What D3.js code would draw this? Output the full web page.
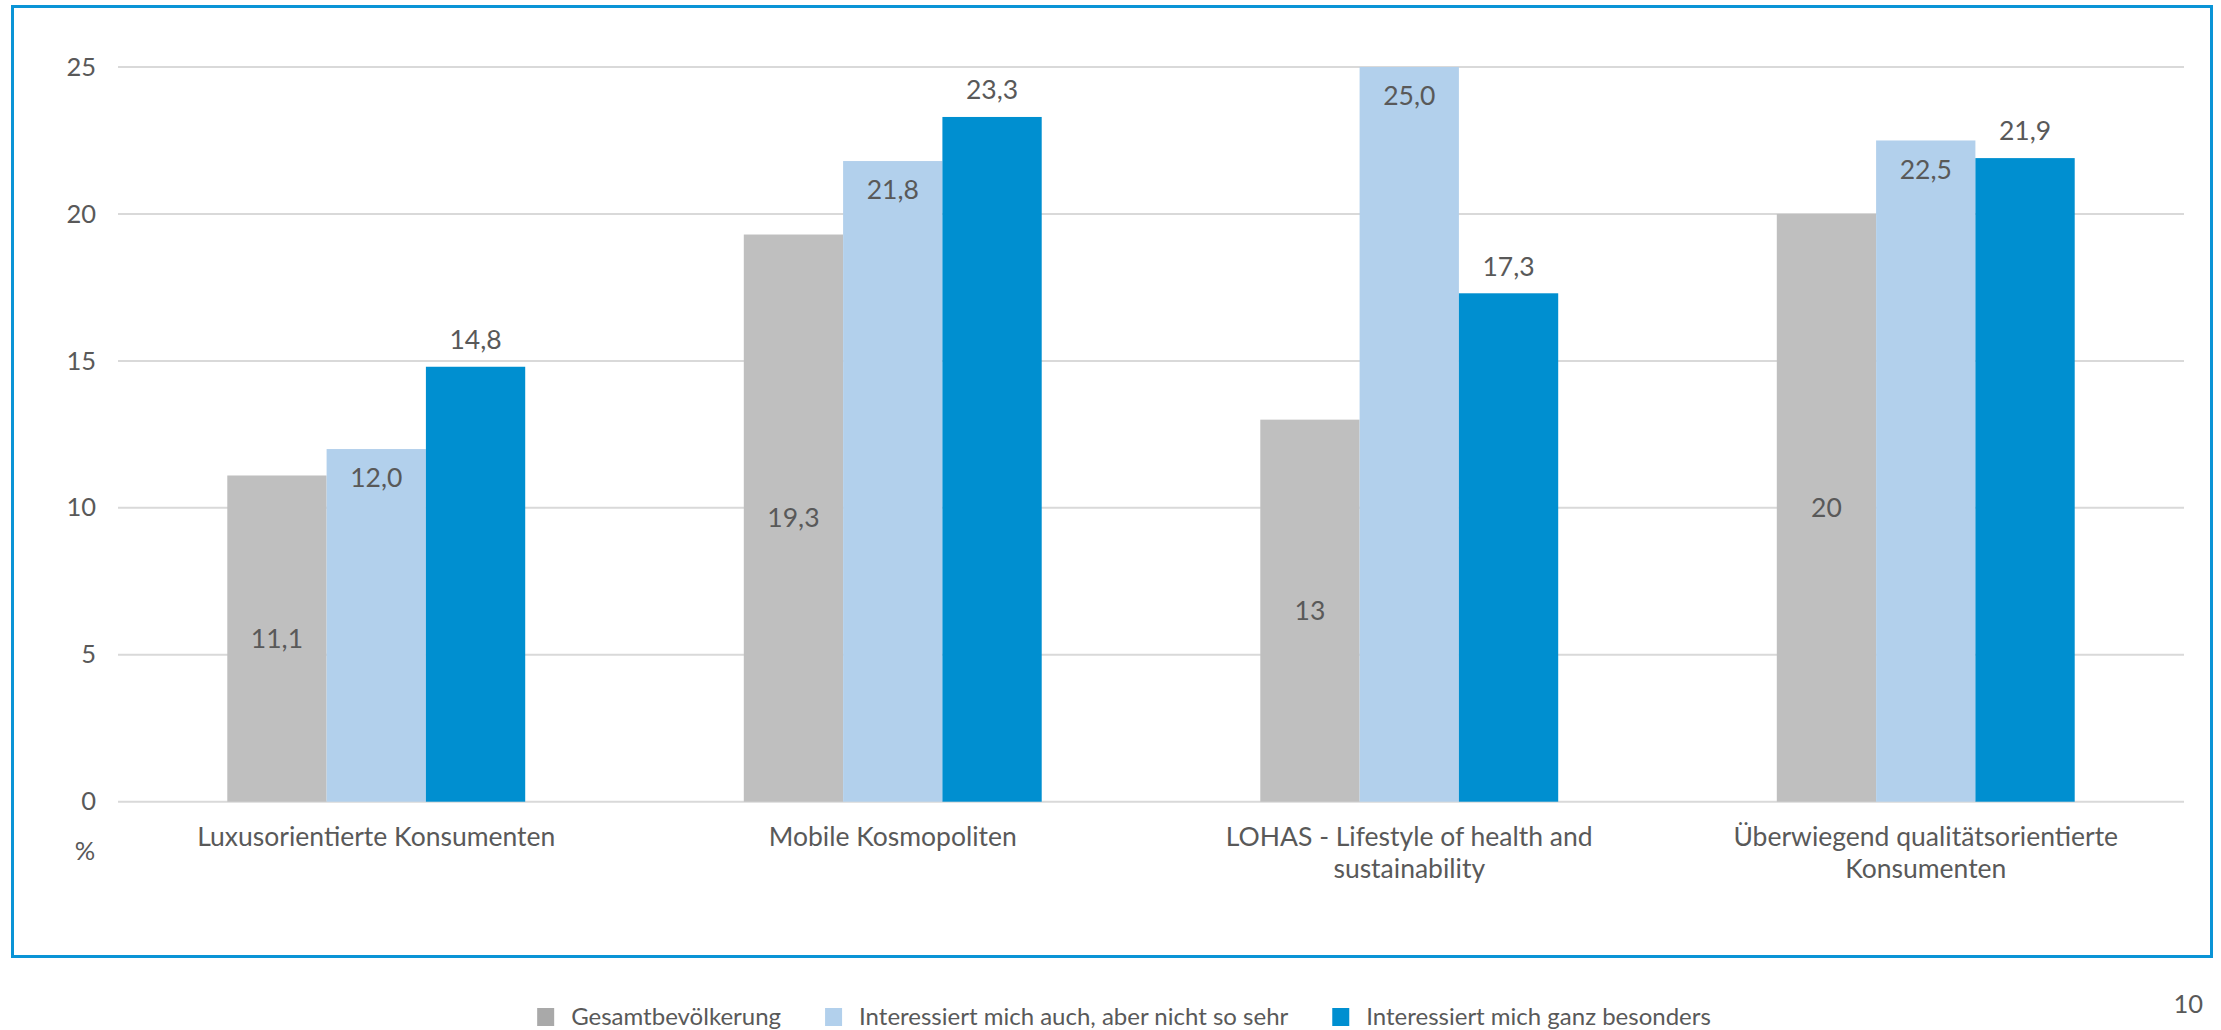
<!DOCTYPE html>
<html>
<head>
<meta charset="utf-8">
<script src="https://cdn.jsdelivr.net/npm/d3@7"></script>
<style>
  body { margin: 0; background: #fff; }
  text { font-family: Lato, 'Open Sans', sans-serif; fill: #595959; }
</style>
</head>
<body>
<script>
// data
var categories = [
  'Luxusorientierte Konsumenten',
  'Mobile Kosmopoliten',
  'LOHAS - Lifestyle of health and sustainability',
  'Überwiegend qualitätsorientierte Konsumenten'
]
var seriesNames = [
  'Gesamtbevölkerung',
  'Interessiert mich auch, aber nicht so sehr',
  'Interessiert mich ganz besonders'
]
var gesamt = [11.1, 19.3, 13, 20]
var nichtSoSehr = [12.0, 21.8, 25.0, 22.5]
var besonders = [14.8, 23.3, 17.3, 21.9]
var yTicks = [0, 5, 10, 15, 20, 25]

var colors = ['#bfbfbf', '#b2d0ec', '#008fd0']
var legendColors = ['#a9a9a9', '#b2d0ec', '#008fd0']

var w = 2221
var h = 1030
var plotLeft = 118
var plotRight = 2184
var plotTop = 67
var plotBottom = 801.7

var svg = d3.select('body')
  .append('svg')
  .attr('width', w)
  .attr('height', h)

// frame
svg.append('rect')
  .attr('x', 12.5)
  .attr('y', 6.5)
  .attr('width', 2199)
  .attr('height', 950)
  .attr('fill', 'none')
  .attr('stroke', '#0a94d6')
  .attr('stroke-width', 3)

var x0 = d3.scaleBand()
  .domain(categories)
  .range([plotLeft, plotRight])
  .paddingInner(0.4232)
  .paddingOuter(0.2116)

var x1 = d3.scaleBand()
  .domain(d3.range(seriesNames.length))
  .range([0, x0.bandwidth()])

var y = d3.scaleLinear()
  .domain([0, 25])
  .range([plotBottom, plotTop])

// gridlines
svg.append('g')
  .selectAll('line')
  .data(yTicks)
  .enter()
  .append('line')
  .attr('x1', plotLeft)
  .attr('x2', plotRight)
  .attr('y1', function (d) { return y(d) })
  .attr('y2', function (d) { return y(d) })
  .attr('stroke', '#d9d9d9')
  .attr('stroke-width', 2)

// y axis labels
var yAxis = svg.append('g')
  .attr('transform', 'translate(' + plotLeft + ',0)')
  .call(d3.axisLeft(y).tickValues(yTicks).tickSize(0).tickPadding(22))
yAxis.select('.domain').remove()
yAxis.selectAll('text')
  .attr('font-size', '25.5px')
  .attr('font-family', 'Lato, sans-serif')
  .attr('fill', '#595959')

svg.append('text')
  .attr('x', 85)
  .attr('y', 860)
  .attr('text-anchor', 'middle')
  .attr('font-size', '25.5px')
  .text('%')

// bars
var rows = categories.map(function (c, i) {
  return { cat: c, values: [gesamt[i], nichtSoSehr[i], besonders[i]] }
})

var groups = svg.selectAll('.grp')
  .data(rows)
  .enter()
  .append('g')
  .attr('class', 'grp')
  .attr('transform', function (d) { return 'translate(' + x0(d.cat) + ',0)' })

groups.selectAll('rect')
  .data(function (d) { return d.values })
  .enter()
  .append('rect')
  .attr('x', function (d, i) { return x1(i) })
  .attr('y', function (d) { return y(d) })
  .attr('width', x1.bandwidth())
  .attr('height', function (d) { return y(0) - y(d) })
  .attr('fill', function (d, i) { return colors[i] })

var fmt = function (d, i) {
  var s = i === 0 ? String(d) : d.toFixed(1)
  return s.replace('.', ',')
}

// value labels: gray centre, light inside end, dark outside end
groups.selectAll('.val')
  .data(function (d) { return d.values })
  .enter()
  .append('text')
  .attr('class', 'val')
  .attr('x', function (d, i) { return x1(i) + x1.bandwidth() / 2 })
  .attr('y', function (d, i) {
    if (i === 0) return (y(d) + y(0)) / 2
    if (i === 1) return y(d) + 29
    return y(d) - 27
  })
  .attr('dy', '0.35em')
  .attr('text-anchor', 'middle')
  .attr('font-size', '26.5px')
  .text(fmt)

// category labels with wrapping
groups.append('text')
  .attr('class', 'cat')
  .attr('text-anchor', 'middle')
  .attr('font-size', '26.5px')
  .each(function (d) {
    var el = d3.select(this)
    var words = d.cat.split(' ')
    var lines = []
    var line = []
    var probe = el.append('tspan')
    words.forEach(function (wd) {
      line.push(wd)
      probe.text(line.join(' '))
      if (probe.node().getComputedTextLength() > 460 && line.length > 1) {
        line.pop()
        lines.push(line.join(' '))
        line = [wd]
      }
    })
    lines.push(line.join(' '))
    probe.remove()
    lines.forEach(function (t, k) {
      el.append('tspan')
        .attr('x', x0.bandwidth() / 2)
        .attr('y', y(0) + 44 + k * 32)
        .text(t)
    })
  })

// legend
var legend = svg.append('g')
var lx = 0
seriesNames.forEach(function (name, i) {
  var item = legend.append('g').attr('transform', 'translate(' + lx + ',0)')
  item.append('rect')
    .attr('x', 0)
    .attr('y', 1008)
    .attr('width', 17)
    .attr('height', 18)
    .attr('fill', legendColors[i])
  var t = item.append('text')
    .attr('x', 34)
    .attr('y', 1025)
    .attr('font-size', '24px')
    .text(name)
  lx += 34 + t.node().getComputedTextLength() + 44
})
var lw = lx - 44
legend.attr('transform', 'translate(' + (1124 - lw / 2) + ',0)')

// page number
svg.append('text')
  .attr('x', 2203)
  .attr('y', 1013)
  .attr('text-anchor', 'end')
  .attr('font-size', '25.5px')
  .text('10')
</script>
</body>
</html>
